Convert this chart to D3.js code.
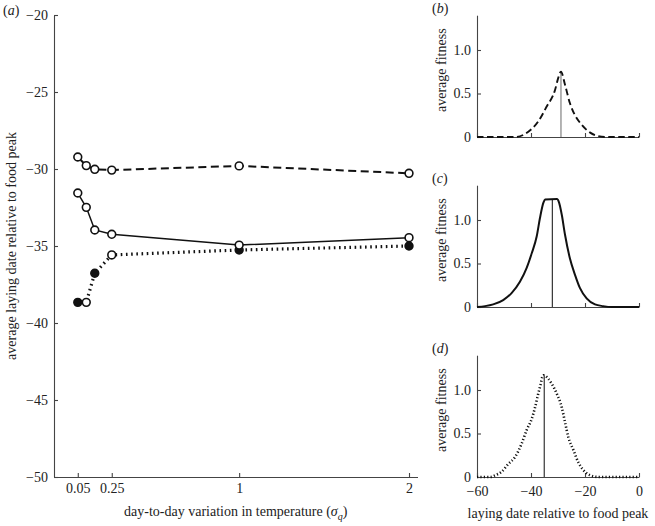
<!DOCTYPE html>
<html>
<head>
<meta charset="utf-8">
<script src="https://cdn.jsdelivr.net/npm/d3@7"></script>
<style>
  html, body { margin: 0; padding: 0; background: #fff; }
  svg, svg text { font-family: "Liberation Serif", "Times New Roman", "DejaVu Serif", serif; }
  .axis path, .axis line { stroke: #444; stroke-width: 1.1; }
  .axis text { fill: #222; font-size: 14px; }
</style>
</head>
<body>
<svg id="chart" width="655" height="526"></svg>
<script>
// ---------- Panel (a) data ----------
const sigma = [0.05, 0.1, 0.15, 0.25, 1, 2];
const sigmaTicks = [0.05, 0.25, 1, 2];
const layTicks = [-50, -45, -40, -35, -30, -25, -20];
const dashedSeries = [-29.22, -29.78, -30.02, -30.07, -29.8, -30.28];
const solidSeries  = [-31.56, -32.49, -33.96, -34.24, -34.94, -34.46];
const dottedSeries = [-38.66, -38.66, -36.77, -35.58, -35.26, -35.0];
const dottedFilled = [true, false, true, false, true, true];

// ---------- Panels (b)-(d) data ----------
const dateTicks = [-60, -40, -20, 0];
const fitTicks = [0, 0.5, 1.0];
const bDates = [-60, -50, -45.9, -41.0, -37.3, -34.2, -31.1, -29.9, -28.9, -27.4, -25.6, -23.7, -21.2, -18.1, -15.1, -12, 0];
const bFit   = [0, 0, 0.0, 0.06, 0.18, 0.35, 0.54, 0.68, 0.75, 0.6, 0.39, 0.25, 0.14, 0.05, 0.01, 0, 0];
const bMean = -28.9;
const cDates = [-60, -57, -54, -50.3, -47.2, -44.1, -41.6, -39.7, -37.9, -36.7, -35.4, -34.8, -30.4, -29.6, -28.6, -27.4, -25.6, -23.7, -21.9, -19.4, -16.3, -13.3, -10, 0];
const cFit   = [0, 0.01, 0.03, 0.08, 0.16, 0.29, 0.45, 0.62, 0.81, 1.02, 1.20, 1.235, 1.24, 1.20, 1.06, 0.83, 0.56, 0.37, 0.22, 0.10, 0.03, 0.01, 0, 0];
const cMean = -32.1;
const dDates = [-60, -55, -53.3, -50.9, -48.4, -45.9, -43.5, -41.6, -39.7, -38.5, -37.3, -36.4, -35.8, -35.4, -33.6, -32.3, -30.5, -28.6, -27.4, -26.2, -24.3, -22.5, -20.6, -18.1, -15.1, -10, 0];
const dFit   = [0, 0, 0.02, 0.06, 0.15, 0.23, 0.38, 0.54, 0.67, 0.80, 0.96, 1.07, 1.15, 1.17, 1.13, 1.07, 0.96, 0.80, 0.63, 0.46, 0.31, 0.17, 0.08, 0.02, 0, 0, 0];
const dMean = -35.1;

const svg = d3.select("#chart");
const ink = "#111";

// ================= Panel (a) =================
const xA = d3.scaleLinear().domain([-0.09, 2.05]).range([54, 417.5]);
const yA = d3.scaleLinear().domain([-50, -20]).range([477, 15]);

svg.append("g").attr("class", "axis")
  .attr("transform", `translate(0,${yA(-50)})`)
  .call(d3.axisBottom(xA).tickValues(sigmaTicks).tickFormat(d => String(d))
    .tickSize(-4).tickSizeOuter(0).tickPadding(6))
  .attr("font-family", null);
svg.append("g").attr("class", "axis")
  .attr("transform", `translate(${xA(-0.09)},0)`)
  .call(d3.axisLeft(yA).tickValues(layTicks).tickFormat(d3.format("d"))
    .tickSize(-4).tickSizeOuter(0).tickPadding(6))
  .attr("font-family", null);

const lineA = vals => d3.line().x((d, i) => xA(sigma[i])).y(d => yA(d))(vals);

function drawSeries(vals, dash, width, filled) {
  svg.append("path").attr("d", lineA(vals)).attr("fill", "none")
    .attr("stroke", ink).attr("stroke-width", width)
    .attr("stroke-dasharray", dash);
  svg.append("g").selectAll("circle").data(vals).join("circle")
    .attr("cx", (d, i) => xA(sigma[i])).attr("cy", d => yA(d)).attr("r", 3.9)
    .attr("fill", (d, i) => filled && filled[i] ? ink : "#fff")
    .attr("stroke", ink).attr("stroke-width", 1.6);
}
drawSeries(dottedSeries, "1.6,3.6", 3.2, dottedFilled);
drawSeries(solidSeries, null, 1.5, null);
drawSeries(dashedSeries, "8,4.5", 2, null);

// labels panel (a)
const la = svg.append("text").attr("x", 3).attr("y", 15).attr("font-size", 14).attr("fill", "#222");
la.append("tspan").text("(");
la.append("tspan").attr("font-style", "italic").text("a");
la.append("tspan").text(")");

svg.append("text").attr("transform", `translate(16,${(15 + 477) / 2}) rotate(-90)`)
  .attr("text-anchor", "middle").attr("font-size", 14).attr("fill", "#222")
  .text("average laying date relative to food peak");

const xl = svg.append("text").attr("x", (54 + 417.5) / 2).attr("y", 516)
  .attr("text-anchor", "middle").attr("font-size", 14).attr("fill", "#222");
xl.append("tspan").text("day-to-day variation in temperature (");
xl.append("tspan").attr("font-style", "italic").text("σ");
xl.append("tspan").attr("font-style", "italic").attr("font-size", 10).attr("dy", 4).text("q");
xl.append("tspan").attr("dy", -4).text(")");

// ================= Panels (b)-(d) =================
const xR = d3.scaleLinear().domain([-60, 0]).range([477, 639]);

function panel(letter, baseY, dates, fit, mean, dash, width, meanColor, showX) {
  const y = d3.scaleLinear().domain([0, 1.4]).range([baseY, baseY - 1.4 * 87]);
  const g = svg.append("g");
  g.append("g").attr("class", "axis").attr("transform", `translate(0,${baseY})`)
    .call(d3.axisBottom(xR).tickValues(dateTicks)
      .tickFormat(showX ? d3.format("d") : () => "")
      .tickSize(-4).tickSizeOuter(0).tickPadding(9))
    .attr("font-family", null);
  g.append("g").attr("class", "axis").attr("transform", `translate(${xR(-60)},0)`)
    .call(d3.axisLeft(y).tickValues(fitTicks)
      .tickFormat(d => d === 0 ? "0" : d3.format(".1f")(d))
      .tickSize(-4).tickSizeOuter(0).tickPadding(6))
    .attr("font-family", null);
  g.append("line").attr("x1", xR(mean)).attr("x2", xR(mean))
    .attr("y1", y(0)).attr("y2", y(d3.max(fit)))
    .attr("stroke", meanColor).attr("stroke-width", 1.1);
  g.append("path")
    .attr("d", d3.line().curve(d3.curveMonotoneX)
      .x((d, i) => xR(dates[i])).y(d => y(d))(fit))
    .attr("fill", "none").attr("stroke", ink).attr("stroke-width", width)
    .attr("stroke-dasharray", dash);
  const top = baseY - 1.4 * 87;
  const t = g.append("text").attr("x", 432).attr("y", top - 2).attr("font-size", 14).attr("fill", "#222");
  t.append("tspan").text("(");
  t.append("tspan").attr("font-style", "italic").text(letter);
  t.append("tspan").text(")");
  g.append("text").attr("transform", `translate(446,${top + 55}) rotate(-90)`)
    .attr("text-anchor", "middle").attr("font-size", 14).attr("fill", "#222")
    .text("average fitness");
}
panel("b", 137, bDates, bFit, bMean, "6.5,3.5", 1.9, "#777", false);
panel("c", 307, cDates, cFit, cMean, null, 2, "#222", false);
panel("d", 477, dDates, dFit, dMean, "1.2,2.2", 2.6, "#222", true);

svg.append("text").attr("x", xR(-30)).attr("y", 518)
  .attr("text-anchor", "middle").attr("font-size", 14).attr("fill", "#222")
  .text("laying date relative to food peak");
</script>
</body>
</html>
